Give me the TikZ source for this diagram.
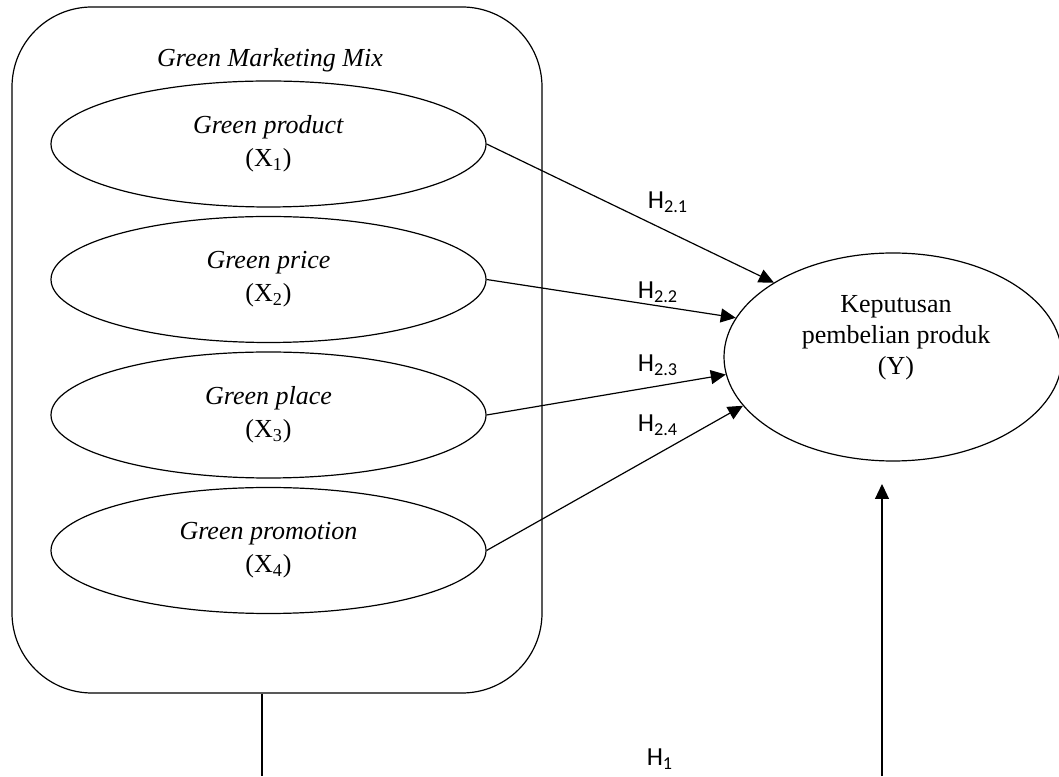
\documentclass[tikz,border=0pt]{standalone}
\usepackage{fontspec}
\setmainfont{Liberation Serif}
\newfontfamily\hypfont{Carlito}
\usepackage{tikz}
\usetikzlibrary{shapes.geometric,arrows.meta}
\newcommand*{\varx}[1]{(X\textsubscript{#1})}
\newcommand*{\hyp}[1]{\hypfont H\textsubscript{#1}}

\begin{document}
\begin{tikzpicture}[semithick, >={Triangle[length=7.5pt,width=7pt]}]
        \useasboundingbox (0,0) rectangle (529.5pt,388pt);
        \fontsize{13}{16.5}\selectfont

        \node (mix) [draw, rounded corners=40pt, minimum width=265pt,
          minimum height=343pt] at (138.5pt,213pt) {};
        \node (mixlabel) at (135pt,358pt) {\textit{Green Marketing Mix}};

        {\tikzstyle{every node}=[ellipse, draw, inner sep=0pt, align=center,
            minimum width=217.5pt, minimum height=63pt]
          \foreach \i/\name in {1/product, 2/price, 3/place, 4/promotion}
          {
            \node (x\i) at (134.25pt, 383.75pt-\i*67.75pt)
              {\textit{Green \name}\\\varx{\i}};
          }

          \node (y) at (446.5pt,209.5pt) [minimum width=169pt, minimum height=104pt] {};
        }
        \node (ylabel) at (448pt,219pt) [align=center, inner sep=0pt]
          {Keputusan\\[-1pt]pembelian produk\\[-1pt](Y)};

        \draw [->]
          (x1.east) -- (y.148);
        \draw [->]
          (x2.east) -- (y.166);
        \draw [->]
          (x3.east) -- (y.186);
        \draw [->]
          (x4.east) -- (y.198);

        {\tikzstyle{every node}=[font=\fontsize{13}{15}\hypfont]
          \node (h21) at (334pt,287pt) {\hyp{2.1}};
          \node (h22) at (329pt,242pt) {\hyp{2.2}};
          \node (h23) at (329pt,205.5pt) {\hyp{2.3}};
          \node (h24) at (329pt,175.5pt) {\hyp{2.4}};
          \node (h1) at (330pt,8.5pt) {\hyp{1}};
        }

        \coordinate (mixfoot) at (131pt,0pt);
        \coordinate (yfoot) at (441pt,0pt);
        \coordinate (ytip) at (441pt,146pt);
        \draw (mix.south -| mixfoot) -- (mixfoot);
        \draw [->] (yfoot) -- (ytip);
      \end{tikzpicture}
\end{document}
